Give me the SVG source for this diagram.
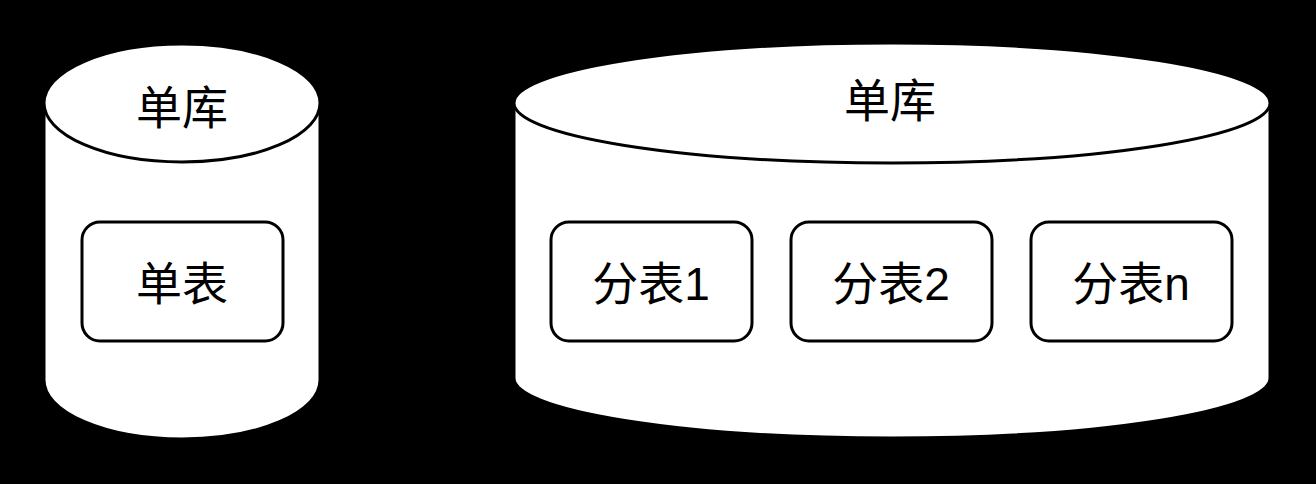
<svg xmlns="http://www.w3.org/2000/svg" width="1316" height="484" viewBox="0 0 1316 484">
<style>
.cyl{fill:#fff;stroke:#000;stroke-width:3}
.box{fill:#fff;stroke:#000;stroke-width:3}
.t{font-family:"Liberation Sans","Noto Sans CJK SC",sans-serif;font-size:46px;fill:#000;text-anchor:middle}
</style>
<rect x="0" y="0" width="1316" height="484" fill="#000"/>
<g id="db1">
<path class="cyl" d="M44,103 L44,380 A138,59 0 0 0 320,380 L320,103 A138,59 0 0 0 44,103 Z"/>
<path class="cyl" fill="none" d="M44,103 A138,59 0 0 0 320,103"/>
<text class="t" x="182" y="124">单库</text>
</g>
<g id="db2">
<path class="cyl" d="M514,103 L514,378 A378,60 0 0 0 1270,378 L1270,103 A378,60 0 0 0 514,103 Z"/>
<path class="cyl" fill="none" d="M514,103 A378,60 0 0 0 1270,103"/>
<text class="t" x="890" y="117">单库</text>
</g>
<g id="t1">
<rect class="box" x="82" y="222" width="201" height="119" rx="18"/>
<text class="t" x="182" y="300">单表</text>
</g>
<g id="t2">
<rect class="box" x="551" y="222" width="201" height="119" rx="18"/>
<text class="t" x="651" y="300">分表1</text>
</g>
<g id="t3">
<rect class="box" x="791" y="222" width="201" height="119" rx="18"/>
<text class="t" x="891" y="300">分表2</text>
</g>
<g id="t4">
<rect class="box" x="1031" y="222" width="201" height="119" rx="18"/>
<text class="t" x="1131" y="300">分表n</text>
</g>
<g id="connectors"/>
</svg>
